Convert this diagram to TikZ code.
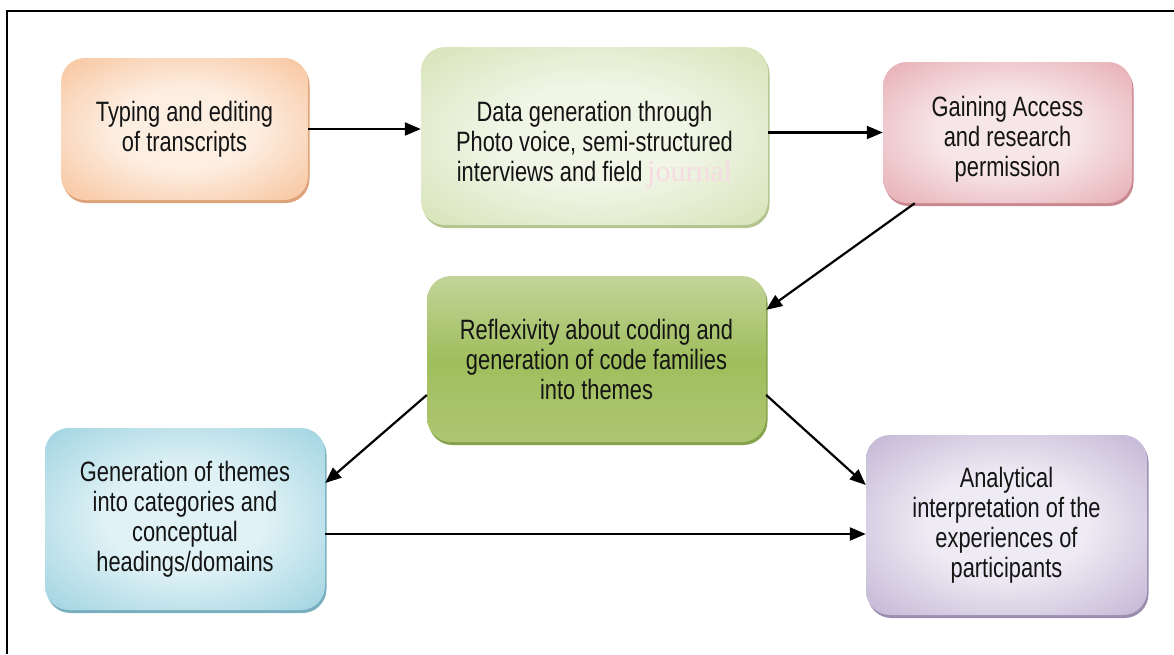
\documentclass[tikz,border=0pt]{standalone}
\usepackage{fontspec}
\setmainfont[FakeStretch=0.78]{Liberation Sans}
\newfontfamily\jserif{Liberation Serif}
\usetikzlibrary{arrows.meta,calc,shadows}

\definecolor{orOut}{HTML}{F6B888}
\definecolor{orIn}{HTML}{FDEEE2}
\definecolor{orSh}{HTML}{DDA27A}
\definecolor{lgOut}{HTML}{CFDEAA}
\definecolor{lgIn}{HTML}{F0F5E6}
\definecolor{lgSh}{HTML}{B3C48E}
\definecolor{pkOut}{HTML}{E19CA3}
\definecolor{pkIn}{HTML}{F7E6E8}
\definecolor{pkSh}{HTML}{C98890}
\definecolor{dgTop}{HTML}{C2D59A}
\definecolor{dgMid}{HTML}{A0BE5D}
\definecolor{dgBot}{HTML}{ADC671}
\definecolor{dgSh}{HTML}{86A24C}
\definecolor{blOut}{HTML}{8CCADA}
\definecolor{blIn}{HTML}{E0F2F6}
\definecolor{blSh}{HTML}{78AEBD}
\definecolor{puOut}{HTML}{B5A6CB}
\definecolor{puIn}{HTML}{EFEBF4}
\definecolor{puSh}{HTML}{9A8DB0}
\definecolor{jpink}{HTML}{F6DCE2}

% soft glow: light centre fading to a saturated rim
\colorlet{glowin}{white}
\colorlet{glowout}{gray}
\pgfdeclareradialshading[glowin,glowout]{softglow}{\pgfpoint{0bp}{0bp}}{%
  color(0bp)=(glowin); color(14bp)=(glowin); color(42bp)=(glowout); color(50bp)=(glowout)}

\begin{document}
\begin{tikzpicture}[x=1pt,y=-1pt,
  txt/.style={align=center, inner sep=0pt,
    font=\fontsize{28}{30}\selectfont, text=black!92},
  box/.style={rounded corners=24pt, txt},
  glow/.style 2 args={/utils/exec={\colorlet{glowin}{#1}\colorlet{glowout}{#2}},
    shading=softglow},
  shadowed/.style={drop shadow={shadow xshift=1.5pt, shadow yshift=-3pt,
    opacity=1, fill=#1}},
  arr/.style={-{Triangle[length=16pt,width=13pt]}, line width=2.2pt}]

\useasboundingbox (0,0) rectangle (1174,654);

% outer frame (top and left edges)
\draw[line width=1.8pt] (7,654) -- (7,11) -- (1174,11);

% process boxes
\node[box, shadowed=orSh, glow={orIn}{orOut},
      minimum width=247pt, minimum height=142pt] (typing) at (184.5,129)
  {Typing and editing\\of transcripts};

\node[box, shadowed=lgSh, glow={lgIn}{lgOut},
      minimum width=347pt, minimum height=178pt,
      label={[txt, yshift=-9pt]center:{Data generation through\\Photo voice, semi-structured\\interviews and field\,{\jserif\fontsize{30}{30}\selectfont\color{jpink}journal}}}]
  (datagen) at (594.5,136) {};

\node[box, shadowed=pkSh, glow={pkIn}{pkOut},
      minimum width=249pt, minimum height=141pt,
      label={[txt, yshift=-7pt]center:{Gaining Access\\and research\\permission}}]
  (access) at (1007.5,132.5) {};

\node[box, shadowed=dgSh, top color=dgTop, bottom color=dgBot, middle color=dgMid,
      minimum width=339pt, minimum height=166pt] (reflex) at (596.5,359)
  {Reflexivity about coding and\\generation of code families\\into themes};

\node[box, shadowed=blSh, glow={blIn}{blOut},
      minimum width=280pt, minimum height=182pt] (themes) at (185,519)
  {Generation of themes\\into categories and\\conceptual\\headings/domains};

\node[box, shadowed=puSh, glow={puIn}{puOut},
      minimum width=281pt, minimum height=180pt] (interp) at (1006.5,525)
  {Analytical\\interpretation of the\\experiences of\\participants};

% connectors
\coordinate (tb) at ($(themes.east)+(0,15)$);
\draw[arr] (typing.east) -- (typing.east -| datagen.west);
\draw[arr] (datagen.east |- access.west) -- (access.west);
\draw[arr] ($(access.south west)+(32,0)$) -- ($(reflex.north east)+(0,34)$);
\draw[arr] ($(reflex.west)+(0,36)$) -- ($(themes.east)+(0,-36)$);
\draw[arr] ($(reflex.east)+(0,36)$) -- ($(interp.west)+(0,-40)$);
\draw[arr] (tb) -- (tb -| interp.west);

\end{tikzpicture}
\end{document}
